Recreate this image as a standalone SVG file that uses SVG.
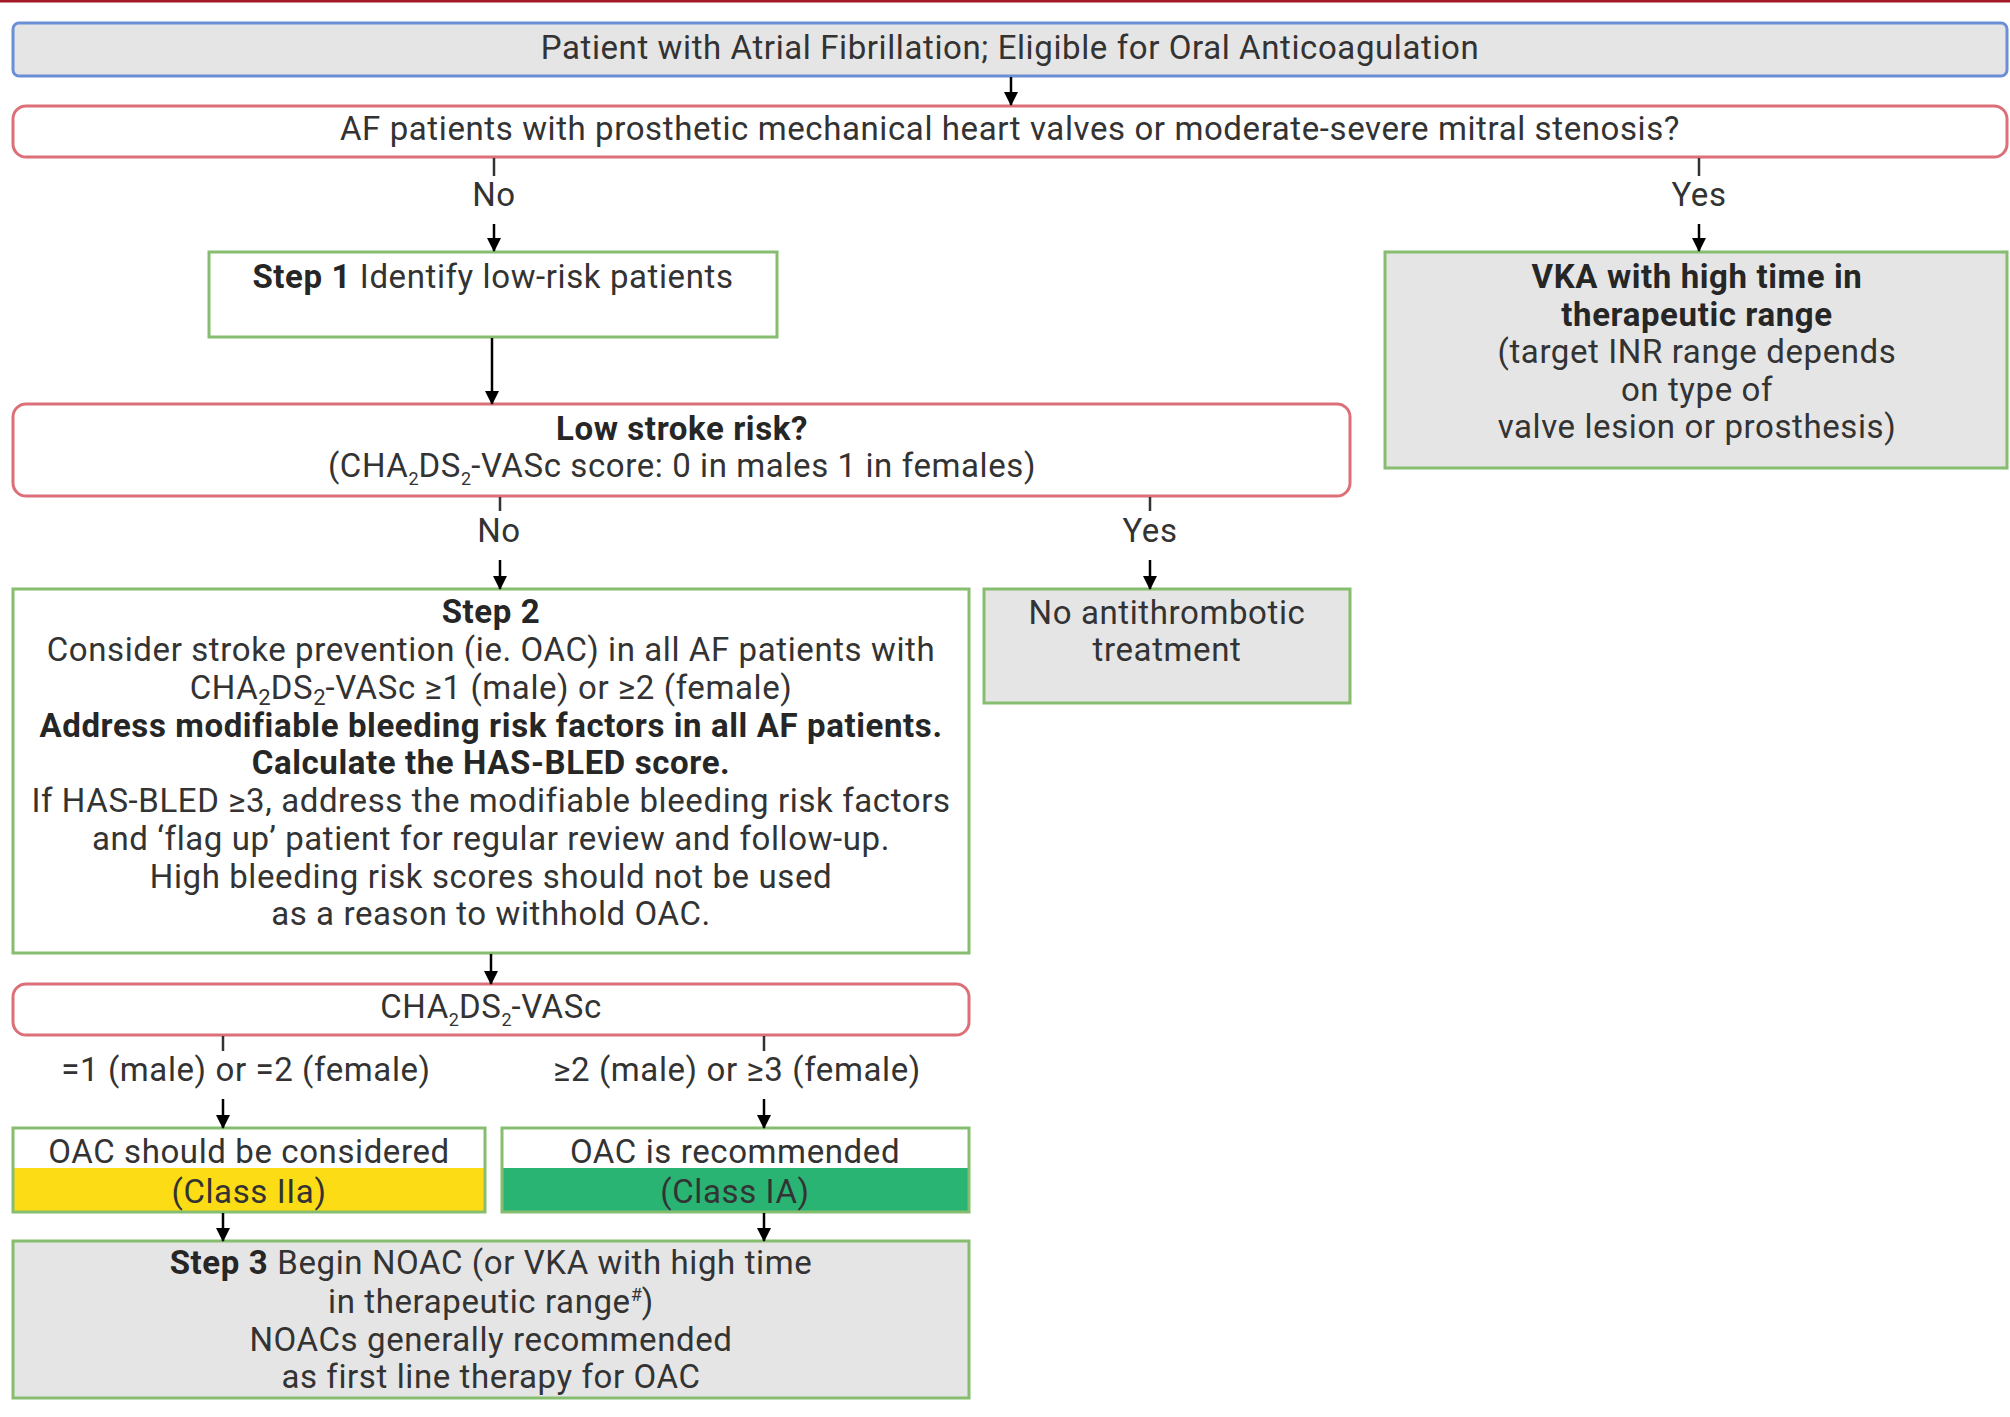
<svg xmlns="http://www.w3.org/2000/svg" width="2010" height="1417" viewBox="0 0 2010 1417">
  <defs>
    <marker id="arrow" viewBox="0 0 14 14" markerWidth="14" markerHeight="14" refX="13" refY="7" orient="auto" markerUnits="userSpaceOnUse">
      <path d="M0,0 L14,7 L0,14 Z" fill="#000"/>
    </marker>
  </defs>
  <style>
    text { font-family: Roboto, "Liberation Sans", sans-serif; font-size: 33px; letter-spacing: 0.6px; fill: #333333; text-anchor: middle; }
    .b { font-weight: bold; fill: #262626; }
    .start { fill: #e5e5e5; stroke: #6a8fd6; stroke-width: 3; }
    .decision { fill: #ffffff; stroke: #dc6f78; stroke-width: 3; }
    .step { fill: #ffffff; stroke: #86bd6f; stroke-width: 3; }
    .result { fill: #e5e5e5; stroke: #86bd6f; stroke-width: 3; }
    .outline { fill: none; stroke: #86bd6f; stroke-width: 3; }
    .edge { stroke: #000; stroke-width: 2.5; fill: none; marker-end: url(#arrow); }
    .tick { stroke: #333; stroke-width: 2.5; fill: none; }
    .sub { font-size: 18px; letter-spacing: 0; }
    .sub2 { font-size: 22px; letter-spacing: 0; }
  </style>

  <rect x="0" y="0" width="2010" height="1417" fill="#ffffff"/>
  <!-- top rule -->
  <rect x="0" y="0" width="2010" height="2.5" fill="#a3192a"/>

  <g id="start">
    <rect class="start" x="13" y="23" width="1994" height="53" rx="6"/>
    <text x="1010" y="59">Patient with Atrial Fibrillation; Eligible for Oral Anticoagulation</text>
  </g>

  <g id="valve-question">
    <rect class="decision" x="13" y="106" width="1994" height="51" rx="13"/>
    <text x="1010" y="140">AF patients with prosthetic mechanical heart valves or moderate-severe mitral stenosis?</text>
  </g>

  <g id="step1">
    <rect class="step" x="209" y="252" width="568" height="85"/>
    <text x="493" y="288"><tspan class="b">Step 1</tspan> Identify low-risk patients</text>
  </g>

  <g id="vka">
    <rect class="result" x="1385" y="252" width="622" height="216"/>
    <text x="1697" y="288" class="b">VKA with high time in</text>
    <text x="1697" y="325.5" class="b">therapeutic range</text>
    <text x="1697" y="363">(target INR range depends</text>
    <text x="1697" y="400.5">on type of</text>
    <text x="1697" y="438">valve lesion or prosthesis)</text>
  </g>

  <g id="low-risk-question">
    <rect class="decision" x="13" y="404" width="1337" height="92" rx="13"/>
    <text x="682" y="440" class="b">Low stroke risk?</text>
    <text x="682" y="477">(CHA<tspan class="sub" dy="8">2</tspan><tspan dy="-8">DS</tspan><tspan class="sub" dy="8">2</tspan><tspan dy="-8">-VASc score: 0 in males 1 in females)</tspan></text>
  </g>

  <g id="no-treatment">
    <rect class="result" x="984" y="589" width="366" height="114"/>
    <text x="1167" y="624">No antithrombotic</text>
    <text x="1167" y="661">treatment</text>
  </g>

  <g id="step2">
    <rect class="step" x="13" y="589" width="956" height="364"/>
    <text x="491" y="623" class="b">Step 2</text>
    <text x="491" y="661">Consider stroke prevention (ie. OAC) in all AF patients with</text>
    <text x="491" y="698.5">CHA<tspan class="sub2" dy="6">2</tspan><tspan dy="-6">DS</tspan><tspan class="sub2" dy="6">2</tspan><tspan dy="-6">-VASc ≥1 (male) or ≥2 (female)</tspan></text>
    <text x="491" y="736.5" class="b">Address modifiable bleeding risk factors in all AF patients.</text>
    <text x="491" y="774" class="b">Calculate the HAS-BLED score.</text>
    <text x="491" y="812">If HAS-BLED ≥3, address the modifiable bleeding risk factors</text>
    <text x="491" y="849.5">and ‘flag up’ patient for regular review and follow-up.</text>
    <text x="491" y="887.5">High bleeding risk scores should not be used</text>
    <text x="491" y="925">as a reason to withhold OAC.</text>
  </g>

  <g id="score-question">
    <rect class="decision" x="13" y="984" width="956" height="51" rx="13"/>
    <text x="491" y="1018">CHA<tspan class="sub" dy="8">2</tspan><tspan dy="-8">DS</tspan><tspan class="sub" dy="8">2</tspan><tspan dy="-8">-VASc</tspan></text>
  </g>

  <g id="oac-considered">
    <rect x="13" y="1128" width="472" height="84" fill="#ffffff"/>
    <rect x="13" y="1168" width="472" height="43" fill="#fcdc14"/>
    <rect class="outline" x="13" y="1128" width="472" height="84"/>
    <text x="249" y="1163">OAC should be considered</text>
    <text x="249" y="1203">(Class IIa)</text>
  </g>

  <g id="oac-recommended">
    <rect x="502" y="1128" width="467" height="84" fill="#ffffff"/>
    <rect x="502" y="1168" width="467" height="43" fill="#2ab473"/>
    <rect class="outline" x="502" y="1128" width="467" height="84"/>
    <text x="735" y="1163">OAC is recommended</text>
    <text x="735" y="1203">(Class IA)</text>
  </g>

  <g id="step3">
    <rect class="result" x="13" y="1241" width="956" height="157"/>
    <text x="491" y="1274"><tspan class="b">Step 3</tspan><tspan dx="9">Begin NOAC (or VKA with high time</tspan></text>
    <text x="491" y="1313">in therapeutic range<tspan class="sub" dy="-12">#</tspan><tspan dy="12">)</tspan></text>
    <text x="491" y="1351">NOACs generally recommended</text>
    <text x="491" y="1388">as first line therapy for OAC</text>
  </g>

  <g id="connectors">
    <line class="edge" x1="1011" y1="77" x2="1011" y2="105"/>
    <!-- valve question: No / Yes -->
    <line class="tick" x1="494" y1="158" x2="494" y2="176"/>
    <text x="494" y="206">No</text>
    <line class="edge" x1="494" y1="224" x2="494" y2="251"/>
    <line class="tick" x1="1699" y1="158" x2="1699" y2="176"/>
    <text x="1699" y="206">Yes</text>
    <line class="edge" x1="1699" y1="224" x2="1699" y2="251"/>
    <!-- step 1 to low-risk question -->
    <line class="edge" x1="492" y1="338" x2="492" y2="404"/>
    <!-- low-risk question: No / Yes -->
    <line class="tick" x1="500" y1="497" x2="500" y2="511"/>
    <text x="499" y="542">No</text>
    <line class="edge" x1="500" y1="560" x2="500" y2="589"/>
    <line class="tick" x1="1150" y1="497" x2="1150" y2="511"/>
    <text x="1150" y="542">Yes</text>
    <line class="edge" x1="1150" y1="560" x2="1150" y2="589"/>
    <!-- step 2 to score -->
    <line class="edge" x1="491" y1="954" x2="491" y2="984"/>
    <!-- score branches -->
    <line class="tick" x1="223" y1="1036" x2="223" y2="1051"/>
    <text x="246" y="1081">=1 (male) or =2 (female)</text>
    <line class="edge" x1="223" y1="1099" x2="223" y2="1128"/>
    <line class="tick" x1="764" y1="1036" x2="764" y2="1051"/>
    <text x="737" y="1081">≥2 (male) or ≥3 (female)</text>
    <line class="edge" x1="764" y1="1099" x2="764" y2="1128"/>
    <!-- class boxes to step 3 -->
    <line class="edge" x1="223" y1="1213" x2="223" y2="1241"/>
    <line class="edge" x1="764" y1="1213" x2="764" y2="1241"/>
  </g>
</svg>
